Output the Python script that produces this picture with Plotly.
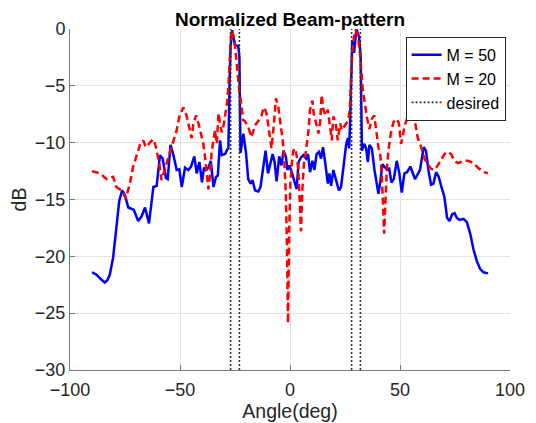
import plotly.graph_objects as go

# ---- data ----
angle_m50 = [-90, -88, -86, -84.2, -83, -81.9, -80.4, -78.9, -77.6, -76.3, -75.1, -73.5, -72.0, -71.0,
             -69.0, -67.5, -65.9, -64.1, -62.1, -60.6, -59.1, -57.9, -56.4, -55.6, -54.3, -53.0, -51.5,
             -50.3, -49.2, -47.7, -46.2, -45.0, -43.5, -42.4, -41.2, -40.0, -39.1, -38.2, -37.1, -36.0,
             -34.8, -33.6, -32.8, -31.8, -31.0, -29.5, -28.5, -28.0, -27.5, -27.0, -26.3, -25.6, -25.0,
             -23.5, -23.0, -22.5, -21.2, -20.0, -19.0, -17.9, -17.0, -15.9, -14.4, -13.4, -12.1, -11.1,
             -10.0, -8.8, -7.9, -7.0, -6.1, -4.9, -3.9, -2.9, -1.8, -1.2, -0.3, 0.8, 1.8, 3.0, 3.9, 5.0,
             6.1, 7.3, 8.2, 9.1, 10.2, 11.1, 12.1, 13.2, 14.1, 15.0, 16.1, 17.2, 17.9, 18.7, 19.7, 20.8,
             22.2, 23.2, 24.3, 25.5, 26.3, 26.9, 27.3, 27.8, 28.3, 29.1, 30.2, 31.4, 32.1, 32.7, 33.7,
             34.6, 35.4, 36.1, 37.2, 38.4, 39.5, 40.2, 41.0, 42.0, 43.3, 44.2, 45.1, 46.1, 47.2, 48.5,
             49.7, 50.8, 52.0, 53.2, 54.7, 55.8, 56.8, 58.0, 59.1, 60.0, 60.8, 61.8, 62.9, 64.1, 65.2,
             66.4, 67.6, 68.7, 70.2, 71.4, 72.5, 73.7, 74.8, 75.8, 77.0, 78.9, 80.4, 81.9, 83.4, 84.9,
             86.4, 87.9, 90]
db_m50 = [-21.4, -21.6, -22.0, -22.3, -22.1, -21.6, -20.1, -17.1, -15.1, -14.2, -14.6, -15.7, -15.8, -15.9,
          -16.9, -16.5, -15.7, -17.1, -13.9, -13.8, -11.1, -11.4, -13.1, -13.2, -10.2, -11.1, -12.4,
          -12.35, -13.9, -12.2, -12.4, -12.1, -11.2, -12.7, -11.7, -13.5, -12.2, -12.4, -12.2, -11.6,
          -13.9, -13.0, -12.9, -9.8, -11.1, -11.0, -10.6, -10.5, -5.0, -1.5, -0.1, -0.9, -1.4,
          -1.5, -2.5, -10.9, -9.2, -10.9, -13.2, -13.6, -13.3, -14.2, -14.3, -13.9, -11.9, -10.7,
          -12.7, -11.6, -11.0, -11.7, -13.4, -11.2, -12.0, -10.7, -11.3, -12.4, -12.0, -12.6, -13.3, -14.1, -11.7, -11.3,
          -11.1, -11.4, -11.0, -12.6, -11.6, -12.4, -11.0, -10.8, -11.4, -10.4, -11.9, -13.6, -12.7, -13.8, -12.4, -13.3,
          -14.2, -13.9, -12.1, -10.2, -9.6, -10.5, -8.3, -3.5, -1.0, -2.1, 0.0, -0.7, -2.4, -10.7, -10.1,
          -10.5, -11.7, -10.2, -10.5, -12.4, -13.9, -14.5, -13.5, -11.9, -12.2, -12.4, -12.3, -13.5, -13.2, -11.6,
          -12.7, -14.4, -12.7, -12.6, -12.1, -12.6, -13.2, -12.8, -12.4, -11.3, -10.4, -10.7, -12.4, -13.7, -13.6,
          -12.6, -13.0, -13.8, -14.8, -16.6, -16.9, -16.3, -16.2, -16.6, -16.8, -16.7, -17.0, -18.0, -19.4, -20.4,
          -21.1, -21.4, -21.5]

angle_m20 = [-90, -86.4, -83.4, -80.4, -78.9, -76.6, -74.6, -72.8, -71.3, -69.7, -68.2, -66.7, -65.5,
             -63.7, -62.1, -60.9, -59.4, -58.4, -57.3, -56.1, -54.6, -53.0, -51.5, -50.3, -48.5, -47.3,
             -46.2, -44.7, -43.9, -42.7, -41.6, -40.6, -39.4, -38.6, -37.9, -37.1, -36.3, -35.6, -34.8,
             -34.1, -33.3, -32.5, -31.8, -31.0, -30.0, -29.2, -28.5, -28.0, -27.5, -26.8, -26.2, -25.0,
             -24.0, -23.0, -22.0, -21.3, -20.5, -19.0, -17.6, -16.7, -15.6, -14.4, -12.9, -12.0, -11.4,
             -10.6, -9.4, -8.4, -7.3, -6.4, -5.3, -4.3, -3.3, -2.6, -1.9, -1.4, -0.9, -0.4, 0.2, 0.8,
             1.5, 2.3, 3.0, 3.8, 4.5, 5.0, 5.6, 6.4, 7.3, 8.4, 9.1, 10.2, 10.9, 11.8, 12.9, 13.7, 14.4,
             15.2, 16.2, 17.2, 18.2, 19.0, 19.7, 20.8, 21.7, 22.8, 23.5, 24.6, 25.5, 26.6, 27.3, 28.0,
             29.0, 29.8, 30.8, 32.0, 33.0, 33.7, 34.9, 36.1, 37.2, 38.3, 39.2, 40.2, 41.0, 41.6, 42.2,
             42.8, 43.4, 44.0, 44.8, 45.8, 47.0, 48.2, 49.4, 50.5, 51.2, 52.0, 53.5, 55.0, 55.8, 56.5,
             58.0, 59.6, 61.1, 62.6, 64.1, 65.6, 67.2, 68.7, 70.2, 71.7, 73.2, 74.8, 76.3, 77.8, 79.3,
             80.8, 82.3, 83.9, 85.4, 86.9, 88.4, 90]
db_m20 = [-12.5, -12.7, -13.2, -13.0, -13.9, -14.2, -14.9, -13.6, -12.1, -11.0, -10.2, -9.8, -10.4,
          -10.0, -9.7, -10.4, -11.9, -13.3, -12.6, -11.7, -10.7, -9.9, -8.9, -7.7, -6.9, -7.4,
          -8.3, -9.6, -8.3, -7.6, -8.3, -9.2, -10.1, -11.3, -12.7, -14.1, -12.7, -10.8, -9.8,
          -8.9, -10.1, -7.4, -8.3, -9.1, -8.3, -7.1, -6.3, -5.0, -2.5, -0.5, -0.1, -1.5,
          -3.5, -5.5, -6.8, -8.0, -8.1, -8.6, -9.5, -8.9, -8.4, -8.1, -7.6, -6.9, -7.0,
          -7.5, -9.2, -10.5, -8.3, -6.1, -6.9, -8.3, -9.8, -11.6, -14.5, -19.0, -25.9, -18.0, -13.5, -11.9,
          -10.7, -10.5, -11.1, -12.4, -15.0, -17.8, -14.2, -11.6, -10.7, -8.9, -7.1, -6.3, -7.7, -8.2, -9.2, -8.2, -5.8,
          -7.1, -7.6, -7.1, -8.6, -9.8, -7.7, -8.3, -9.8, -8.3, -8.9, -8.6, -8.3, -8.0, -6.6, -3.0,
          -0.8, -0.1, -0.5, -2.5, -5.2, -6.3, -7.7, -8.8, -7.9, -7.6, -9.2, -10.4, -11.0, -12.5, -15.0,
          -18.0, -15.1, -12.4, -10.6, -9.2, -8.2, -7.9, -8.2, -10.1, -9.5, -8.6, -7.7, -7.1, -7.0, -7.9,
          -9.5, -10.4, -11.4, -11.9, -12.3, -12.4, -12.0, -11.5, -11.0, -10.8, -11.0, -11.6, -11.8, -11.7, -11.6,
          -11.6, -11.7, -11.9, -12.2, -12.4, -12.6, -12.7]

desired_angles = [-27, -23, 28, 32]
y_limits = [-30, 0]
x_limits = [-100, 100]
x_ticks = [-100, -50, 0, 50, 100]
y_ticks = [0, -5, -10, -15, -20, -25, -30]

# ---- figure ----
FONT = "Liberation Sans, Arial, Helvetica, sans-serif"
W, H = 528, 415  # page body has an 8px margin in the 536x423 window

fig = go.Figure()

fig.add_trace(go.Scatter(x=angle_m50, y=db_m50, mode="lines", name="M = 50",
                         line=dict(color="#0000ff", width=2.5)))
fig.add_trace(go.Scatter(x=angle_m20, y=db_m20, mode="lines", name="M = 20",
                         line=dict(color="#ff0000", width=2.5, dash="7px,4px")))

dx, dy = [], []
for a in desired_angles:
    dx += [a, a, None]
    dy += [y_limits[0], y_limits[1], None]
fig.add_trace(go.Scatter(x=dx, y=dy, mode="lines", name="desired",
                         line=dict(color="#333333", width=1.6, dash="2px,2px")))

axis_common = dict(showgrid=True, gridcolor="#e3e3e3", gridwidth=1, zeroline=False,
                   showline=True, linecolor="#7a7a7a", linewidth=1,
                   ticks="inside", ticklen=5, tickcolor="#7a7a7a", automargin=False,
                   tickfont=dict(family=FONT, size=18, color="#262626"))

fig.update_layout(
    width=W, height=H,
    margin=dict(l=62, r=26, t=21, b=53),
    paper_bgcolor="white", plot_bgcolor="white",
    font=dict(family=FONT, color="#262626"),
    title=dict(text="<b>Normalized Beam-pattern</b>", x=0.5, xref="paper",
               y=1 - 11.5 / H, yref="container", yanchor="middle",
               font=dict(family=FONT, size=19, color="#000000")),
    xaxis=dict(range=x_limits, tickvals=x_ticks, ticklabelstandoff=3,
               title=dict(text="Angle(deg)", font=dict(family=FONT, size=19.5), standoff=3),
               **axis_common),
    yaxis=dict(range=y_limits, tickvals=y_ticks,
               title=dict(text="dB", font=dict(family=FONT, size=19.5), standoff=6),
               **axis_common),
    legend=dict(x=0.99, y=0.977, xanchor="right", yanchor="top",
                bgcolor="white", bordercolor="#262626", borderwidth=1,
                font=dict(family=FONT, size=16, color="#000000"),
                itemwidth=30, tracegroupgap=0),
    showlegend=True,
)

fig.write_html("out.html")
